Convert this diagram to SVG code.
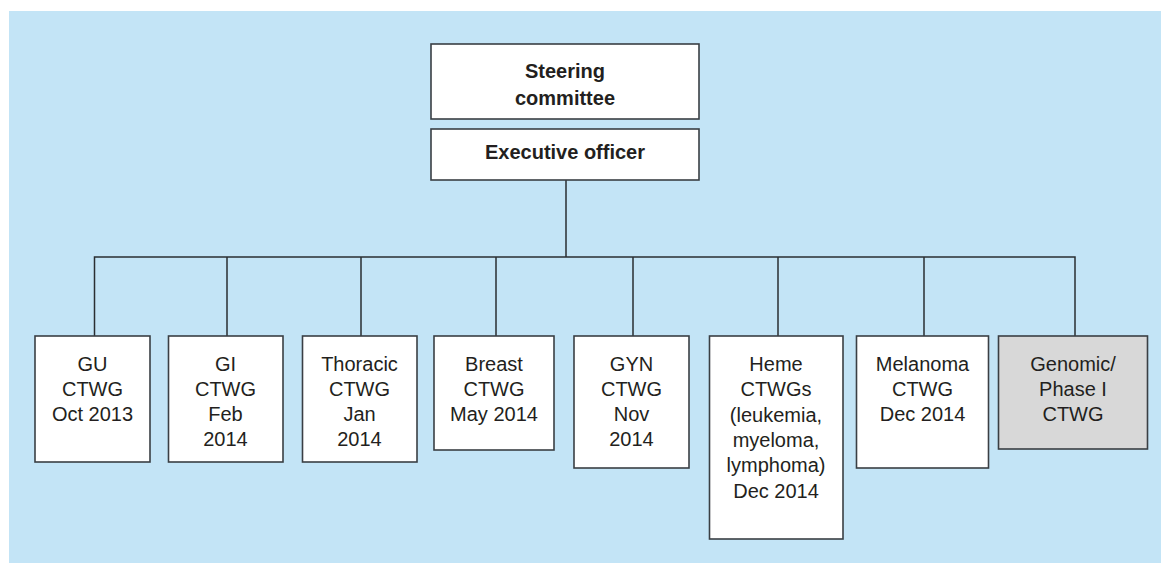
<svg xmlns="http://www.w3.org/2000/svg" width="1161" height="563" viewBox="0 0 1161 563">
<style>
.box{fill:#ffffff;stroke:#3a3f44;stroke-width:1.6}
.grey{fill:#d8d8d8}
.t{font-family:"Liberation Sans",Arial,sans-serif;font-size:20px;fill:#231f20;text-anchor:middle}
.b{font-weight:bold}
.c{fill:none;stroke:#2a2e32;stroke-width:1.5}
</style>
<rect x="9" y="11" width="1152" height="552" fill="#c3e4f6"/>
<g id="connectors">
<path class="c" d="M566 180V257M94.5 336V257H1075V336M227 257V336M361 257V336M496 257V336M633 257V336M778 257V336M924 257V336"/>
</g>
<g id="steering">
<rect class="box" x="431" y="44" width="268" height="75"/>
<text class="t b" x="565" y="78">Steering</text>
<text class="t b" x="565" y="105">committee</text>
</g>
<g id="executive">
<rect class="box" x="431" y="129" width="268" height="51"/>
<text class="t b" x="565" y="159">Executive officer</text>
</g>
<g id="gu">
<rect class="box" x="35" y="336" width="115" height="126"/>
<text class="t" x="92.5" y="371">GU</text>
<text class="t" x="92.5" y="396">CTWG</text>
<text class="t" x="92.5" y="421">Oct 2013</text>
</g>
<g id="gi">
<rect class="box" x="168.5" y="336" width="114.5" height="126"/>
<text class="t" x="225.5" y="371">GI</text>
<text class="t" x="225.5" y="396">CTWG</text>
<text class="t" x="225.5" y="421">Feb</text>
<text class="t" x="225.5" y="446">2014</text>
</g>
<g id="thoracic">
<rect class="box" x="302.5" y="336" width="114.5" height="126"/>
<text class="t" x="359.5" y="371">Thoracic</text>
<text class="t" x="359.5" y="396">CTWG</text>
<text class="t" x="359.5" y="421">Jan</text>
<text class="t" x="359.5" y="446">2014</text>
</g>
<g id="breast">
<rect class="box" x="434" y="336" width="120" height="114"/>
<text class="t" x="494" y="371">Breast</text>
<text class="t" x="494" y="396">CTWG</text>
<text class="t" x="494" y="421">May 2014</text>
</g>
<g id="gyn">
<rect class="box" x="574" y="336" width="115" height="132"/>
<text class="t" x="631.5" y="371">GYN</text>
<text class="t" x="631.5" y="396">CTWG</text>
<text class="t" x="631.5" y="421">Nov</text>
<text class="t" x="631.5" y="446">2014</text>
</g>
<g id="heme">
<rect class="box" x="709.5" y="336" width="133.5" height="203"/>
<text class="t" x="776" y="371">Heme</text>
<text class="t" x="776" y="396">CTWGs</text>
<text class="t" x="776" y="421.5">(leukemia,</text>
<text class="t" x="776" y="447">myeloma,</text>
<text class="t" x="776" y="472">lymphoma)</text>
<text class="t" x="776" y="497.5">Dec 2014</text>
</g>
<g id="melanoma">
<rect class="box" x="856.5" y="336" width="132" height="132"/>
<text class="t" x="922.5" y="371">Melanoma</text>
<text class="t" x="922.5" y="396">CTWG</text>
<text class="t" x="922.5" y="421">Dec 2014</text>
</g>
<g id="genomic">
<rect class="box grey" x="998.5" y="336" width="149" height="113"/>
<text class="t" x="1073" y="371">Genomic/</text>
<text class="t" x="1073" y="396">Phase I</text>
<text class="t" x="1073" y="421">CTWG</text>
</g>
</svg>
